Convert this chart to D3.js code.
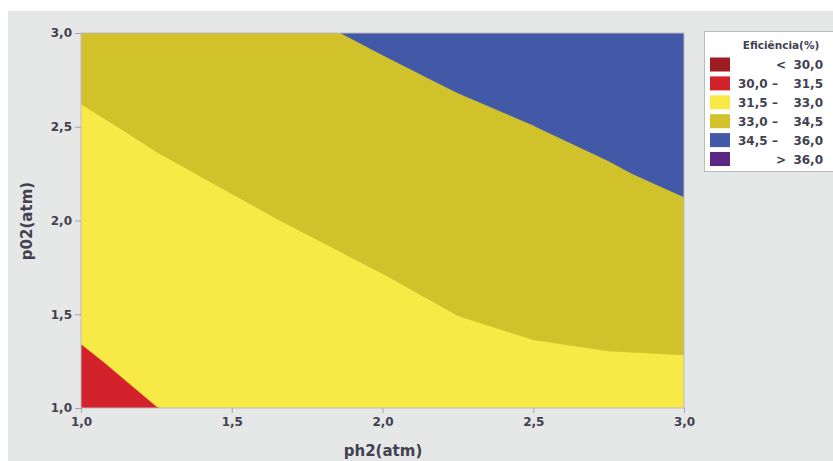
<!DOCTYPE html>
<html>
<head>
<meta charset="utf-8">
<script src="https://cdn.jsdelivr.net/npm/d3@7"></script>
<style>
  body { margin: 0; background: #ffffff; }
  text { font-family: "DejaVu Sans", sans-serif; font-weight: bold; fill: #3f4250; }
</style>
</head>
<body>
<div id="chart"></div>
<script>
// grid of ph2 / p02 values (atm) on which the efficiency was read
var ph2Grid = [1.0, 1.25, 1.5, 1.75, 2.0, 2.25, 2.5, 2.75, 3.0];
var p02Grid = [1.0, 1.25, 1.5, 1.75, 2.0, 2.25, 2.5, 2.75, 3.0];

// efficiency (%), one row per p02 value, columns follow ph2Grid
var efficiency = [
  [31.10, 31.49, 31.70, 31.89, 32.11, 32.37, 32.53, 32.55, 32.50], // p02 = 1.00
  [31.39, 31.77, 31.98, 32.19, 32.42, 32.69, 32.85, 32.92, 32.94], // 1.25
  [31.69, 32.04, 32.27, 32.49, 32.73, 33.01, 33.18, 33.29, 33.39], // 1.50
  [31.98, 32.32, 32.55, 32.79, 33.04, 33.32, 33.51, 33.66, 33.83], // 1.75
  [32.27, 32.59, 32.84, 33.09, 33.36, 33.64, 33.84, 34.03, 34.28], // 2.00
  [32.57, 32.87, 33.12, 33.40, 33.69, 33.95, 34.16, 34.40, 34.72], // 2.25
  [32.86, 33.15, 33.41, 33.72, 34.01, 34.27, 34.49, 34.77, 35.17], // 2.50
  [33.15, 33.42, 33.69, 34.03, 34.33, 34.59, 34.81, 35.14, 35.61], // 2.75
  [33.45, 33.70, 33.98, 34.38, 34.65, 34.90, 35.14, 35.51, 35.90]  // 3.00
];

var levels = [30.0, 31.5, 33.0, 34.5, 36.0];
var bandColors = ["#9c1c22", "#d3222b", "#f8ea46", "#d1c12a", "#4259a8", "#5b2785"];
var legendLabels = [["", "<", "30,0"], ["30,0", "\u2013", "31,5"], ["31,5", "\u2013", "33,0"],
                    ["33,0", "\u2013", "34,5"], ["34,5", "\u2013", "36,0"], ["", ">", "36,0"]];
var xTicks = [1.0, 1.5, 2.0, 2.5, 3.0];
var yTicks = [1.0, 1.5, 2.0, 2.5, 3.0];

var W = 833, H = 461;
var svg = d3.select("#chart").append("svg").attr("width", W).attr("height", H);

// gray panel
svg.append("rect").attr("x", 8).attr("y", 11).attr("width", W - 8).attr("height", H - 11)
  .attr("fill", "#e6e7e7");

var x = d3.scaleLinear().domain([1, 3]).range([81, 684]);
var y = d3.scaleLinear().domain([1, 3]).range([408, 33]);

var fmt = d3.formatLocale({decimal: ",", thousands: ".", grouping: [3], currency: ["", ""]}).format(".1f");

svg.append("clipPath").attr("id", "plotclip")
  .append("rect").attr("x", x(1)).attr("y", y(3)).attr("width", x(3) - x(1)).attr("height", y(1) - y(3));

var plot = svg.append("g").attr("clip-path", "url(#plotclip)");

// band below the lowest level
plot.append("rect").attr("x", x(1)).attr("y", y(3)).attr("width", x(3) - x(1)).attr("height", y(1) - y(3))
  .attr("fill", bandColors[0]);

var nx = ph2Grid.length, ny = p02Grid.length;
var values = [];
efficiency.forEach(function(row){ row.forEach(function(v){ values.push(v); }); });

var stepX = ph2Grid[1] - ph2Grid[0], stepY = p02Grid[1] - p02Grid[0];
// grid coords -> pixels (cell centres sit at i + 0.5)
var proj = d3.geoTransform({
  point: function(gx, gy) {
    this.stream.point(x(ph2Grid[0] + (gx - 0.5) * stepX), y(p02Grid[0] + (gy - 0.5) * stepY));
  }
});
var path = d3.geoPath(proj);

var contours = d3.contours().size([nx, ny]).thresholds(levels)(values);

plot.selectAll("path.band")
  .data(contours)
  .enter().append("path")
  .attr("class", "band")
  .attr("d", path)
  .attr("fill", function(d, i){ return bandColors[i + 1]; })
  .attr("stroke", function(d, i){ return bandColors[i + 1]; })
  .attr("stroke-width", 0.5);

// frame
svg.append("rect").attr("x", x(1)).attr("y", y(3)).attr("width", x(3) - x(1)).attr("height", y(1) - y(3))
  .attr("fill", "none").attr("stroke", "#b9bbbd").attr("stroke-width", 1);

// axes
var xAxis = svg.append("g").attr("transform", "translate(0," + y(1) + ")")
  .call(d3.axisBottom(x).tickValues(xTicks).tickFormat(fmt).tickSize(5).tickPadding(4));
var yAxis = svg.append("g").attr("transform", "translate(" + x(1) + ",0)")
  .call(d3.axisLeft(y).tickValues(yTicks).tickFormat(fmt).tickSize(6).tickPadding(3));
[xAxis, yAxis].forEach(function(a){
  a.select(".domain").remove();
  a.selectAll(".tick line").attr("stroke", "#a3a5a8");
  a.selectAll(".tick text").attr("font-size", 12).attr("fill", "#3f4250")
    .style("font-family", "'DejaVu Sans', sans-serif").style("font-weight", "bold");
});

svg.append("text").attr("x", 383).attr("y", 456).attr("text-anchor", "middle")
  .attr("font-size", 15).text("ph2(atm)");
svg.append("text").attr("transform", "translate(32,221) rotate(-90)").attr("text-anchor", "middle")
  .attr("font-size", 15).text("p02(atm)");

// legend
var lg = svg.append("g");
lg.append("rect").attr("x", 704.5).attr("y", 31.5).attr("width", 140).attr("height", 140)
  .attr("fill", "#ffffff").attr("stroke", "#b9bbbd");
lg.append("text").attr("x", 781).attr("y", 49).attr("text-anchor", "middle")
  .attr("font-size", 10.5).text("Efici\u00eancia(%)");
var rowY = d3.scaleLinear().domain([0, 5]).range([64.5, 159]);
legendLabels.forEach(function(lab, i){
  var cy = rowY(i);
  lg.append("rect").attr("x", 710).attr("y", cy - 7).attr("width", 20).attr("height", 14)
    .attr("fill", bandColors[i]);
  lg.append("text").attr("x", 738).attr("y", cy + 4.5).attr("font-size", 12).text(lab[0]);
  lg.append("text").attr("x", lab[1] === "\u2013" ? 775 : 781).attr("y", cy + 4.5)
    .attr("text-anchor", "middle").attr("font-size", 12).text(lab[1]);
  lg.append("text").attr("x", 823).attr("y", cy + 4.5).attr("text-anchor", "end")
    .attr("font-size", 12).text(lab[2]);
});
</script>
</body>
</html>
